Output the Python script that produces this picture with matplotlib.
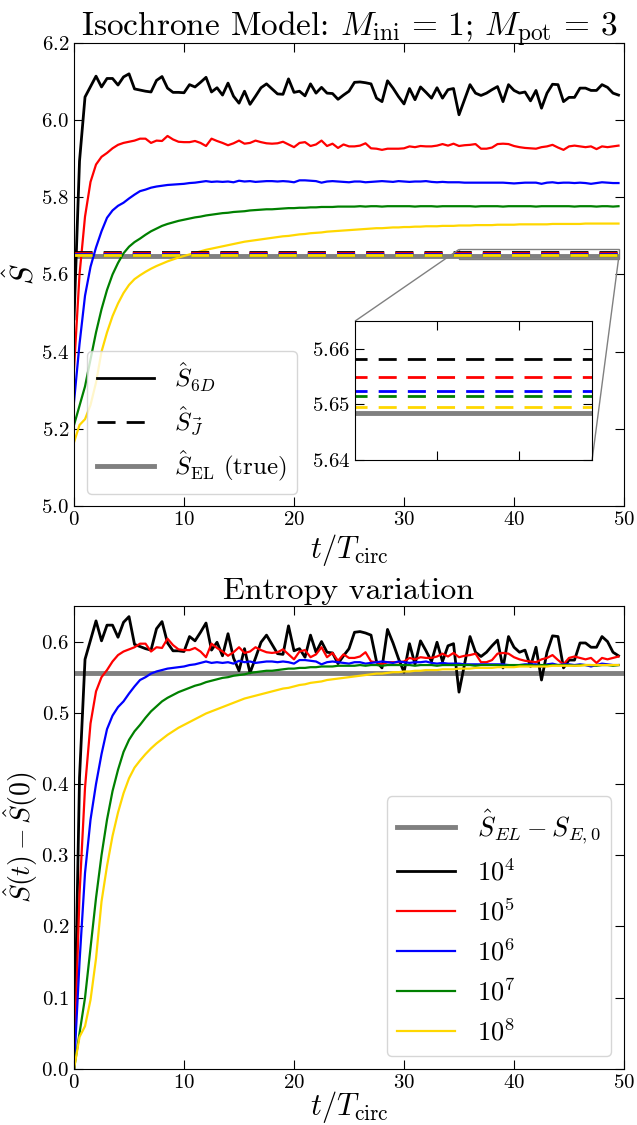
import numpy as np
import matplotlib
matplotlib.use('Agg')
import matplotlib.pyplot as plt
from mpl_toolkits.axes_grid1.inset_locator import mark_inset

plt.rcParams['font.family'] = 'serif'
plt.rcParams['font.serif'] = ['cmr10']
plt.rcParams['mathtext.fontset'] = 'cm'
plt.rcParams['axes.formatter.use_mathtext'] = True

# time in units of T_circ
t = np.arange(0, 50, 0.5)

# entropy estimate S_6D for N = 1e4 ... 1e8 particles
s6d_1e4 = [5.485, 5.894, 6.060, 6.087, 6.114, 6.086, 6.108, 6.108, 6.091, 6.112,
           6.120, 6.081, 6.078, 6.075, 6.073, 6.103, 6.113, 6.083, 6.072, 6.072,
           6.071, 6.092, 6.086, 6.098, 6.111, 6.073, 6.084, 6.065, 6.096, 6.062,
           6.044, 6.075, 6.041, 6.062, 6.084, 6.094, 6.081, 6.068, 6.067, 6.107,
           6.072, 6.075, 6.063, 6.094, 6.070, 6.085, 6.070, 6.069, 6.054, 6.065,
           6.075, 6.098, 6.099, 6.097, 6.094, 6.057, 6.048, 6.102, 6.083, 6.061,
           6.042, 6.082, 6.053, 6.086, 6.072, 6.057, 6.084, 6.057, 6.079, 6.082,
           6.014, 6.053, 6.092, 6.070, 6.064, 6.070, 6.079, 6.087, 6.048, 6.092,
           6.077, 6.070, 6.073, 6.050, 6.077, 6.031, 6.070, 6.093, 6.092, 6.048,
           6.059, 6.059, 6.083, 6.083, 6.077, 6.077, 6.092, 6.085, 6.070, 6.065]
s6d_1e5 = [5.355, 5.600, 5.750, 5.840, 5.885, 5.905, 5.915, 5.927, 5.936, 5.941,
           5.944, 5.947, 5.952, 5.952, 5.941, 5.947, 5.946, 5.959, 5.950, 5.944,
           5.943, 5.943, 5.946, 5.941, 5.933, 5.952, 5.946, 5.941, 5.935, 5.940,
           5.947, 5.939, 5.941, 5.947, 5.943, 5.940, 5.939, 5.940, 5.944, 5.937,
           5.930, 5.941, 5.943, 5.933, 5.937, 5.947, 5.933, 5.939, 5.928, 5.937,
           5.932, 5.932, 5.934, 5.940, 5.927, 5.926, 5.923, 5.926, 5.926, 5.926,
           5.927, 5.932, 5.930, 5.933, 5.932, 5.932, 5.934, 5.938, 5.934, 5.939,
           5.933, 5.935, 5.936, 5.938, 5.926, 5.926, 5.929, 5.938, 5.939, 5.938,
           5.933, 5.930, 5.928, 5.927, 5.926, 5.930, 5.932, 5.936, 5.929, 5.923,
           5.932, 5.934, 5.932, 5.930, 5.932, 5.925, 5.932, 5.930, 5.932, 5.934]
s6d_1e6 = [5.270, 5.420, 5.545, 5.620, 5.670, 5.712, 5.747, 5.766, 5.778, 5.786,
           5.797, 5.807, 5.816, 5.820, 5.825, 5.828, 5.830, 5.832, 5.833, 5.834,
           5.835, 5.837, 5.838, 5.840, 5.842, 5.840, 5.841, 5.840, 5.841, 5.839,
           5.843, 5.841, 5.842, 5.840, 5.841, 5.842, 5.842, 5.841, 5.842, 5.841,
           5.839, 5.844, 5.844, 5.843, 5.842, 5.838, 5.841, 5.842, 5.841, 5.840,
           5.839, 5.841, 5.841, 5.839, 5.840, 5.841, 5.842, 5.841, 5.840, 5.842,
           5.841, 5.840, 5.841, 5.841, 5.842, 5.840, 5.839, 5.840, 5.839, 5.839,
           5.839, 5.838, 5.838, 5.838, 5.838, 5.838, 5.838, 5.838, 5.838, 5.837,
           5.836, 5.837, 5.838, 5.838, 5.838, 5.835, 5.838, 5.839, 5.837, 5.838,
           5.838, 5.837, 5.838, 5.837, 5.835, 5.837, 5.839, 5.838, 5.837, 5.837]
s6d_1e7 = [5.210, 5.260, 5.310, 5.380, 5.450, 5.510, 5.560, 5.600, 5.630, 5.655,
           5.672, 5.684, 5.693, 5.703, 5.712, 5.719, 5.726, 5.731, 5.735, 5.739,
           5.742, 5.745, 5.748, 5.750, 5.753, 5.755, 5.757, 5.759, 5.760, 5.762,
           5.763, 5.764, 5.766, 5.767, 5.768, 5.769, 5.769, 5.770, 5.771, 5.772,
           5.772, 5.773, 5.773, 5.774, 5.774, 5.775, 5.775, 5.775, 5.776, 5.776,
           5.776, 5.776, 5.777, 5.776, 5.777, 5.777, 5.776, 5.777, 5.777, 5.777,
           5.777, 5.777, 5.776, 5.777, 5.777, 5.777, 5.776, 5.777, 5.777, 5.777,
           5.777, 5.777, 5.777, 5.776, 5.777, 5.777, 5.777, 5.777, 5.776, 5.777,
           5.777, 5.777, 5.777, 5.777, 5.776, 5.777, 5.777, 5.777, 5.777, 5.777,
           5.777, 5.776, 5.777, 5.777, 5.777, 5.776, 5.777, 5.777, 5.776, 5.777]
s6d_1e8 = [5.165, 5.210, 5.225, 5.262, 5.320, 5.400, 5.450, 5.492, 5.525, 5.552,
           5.573, 5.588, 5.598, 5.607, 5.615, 5.622, 5.628, 5.634, 5.639, 5.644,
           5.648, 5.652, 5.656, 5.660, 5.664, 5.667, 5.670, 5.673, 5.676, 5.679,
           5.682, 5.685, 5.687, 5.689, 5.691, 5.693, 5.695, 5.697, 5.699, 5.700,
           5.702, 5.704, 5.705, 5.707, 5.708, 5.709, 5.711, 5.712, 5.713, 5.714,
           5.715, 5.716, 5.717, 5.718, 5.719, 5.720, 5.720, 5.721, 5.722, 5.722,
           5.723, 5.723, 5.724, 5.724, 5.725, 5.725, 5.725, 5.726, 5.726, 5.726,
           5.727, 5.727, 5.727, 5.728, 5.728, 5.728, 5.728, 5.729, 5.729, 5.729,
           5.729, 5.730, 5.730, 5.730, 5.730, 5.730, 5.730, 5.731, 5.731, 5.731,
           5.731, 5.731, 5.731, 5.732, 5.732, 5.732, 5.732, 5.732, 5.732, 5.732]

# action based estimates S_J (constant)
sj_vals = [5.6582, 5.6550, 5.6525, 5.6516, 5.6495]
s_el_true = 5.6485
s_el_diff = 0.5555

colors = ['black', 'red', 'blue', 'green', 'gold']
labels = [r'$10^4$', r'$10^5$', r'$10^6$', r'$10^7$', r'$10^8$']
series = [s6d_1e4, s6d_1e5, s6d_1e6, s6d_1e7, s6d_1e8]

fig = plt.figure(figsize=(6.37, 11.25), dpi=100)
ax1 = fig.add_axes([0.1162, 0.5502, 0.8634, 0.4116])
ax2 = fig.add_axes([0.1162, 0.0498, 0.8634, 0.4116])

# top panel
ax1.hlines(s_el_true, t[0], t[-1], color='gray', lw=3.5, zorder=1)
for s, c in zip(series, colors):
    ax1.plot(t, s, color=c, lw=2 if c == 'black' else 1.6)
for v, c in zip(sj_vals, colors):
    ax1.plot([t[0], t[-1]], [v, v], color=c, lw=2, ls=(0, (6.5, 4)))

ax1.set_xlim(0, 50)
ax1.set_ylim(5.0, 6.2)
ax1.set_yticks(np.arange(5.0, 6.21, 0.2))
ax1.set_xticks(np.arange(0, 51, 10))
ax1.tick_params(direction='in', top=True, right=True, length=6.5, labelsize=15)
ax1.set_title(r'Isochrone Model: $M_{\rm ini}\/=\/1$; $M_{\rm pot}\/=\/3$', fontsize=24, pad=5)
ax1.set_xlabel(r'$t/T_{\rm circ}$', fontsize=22, labelpad=2)
ax1.set_ylabel(r'$\hat{S}$', fontsize=22, labelpad=1)

h6d, = ax1.plot([], [], color='black', lw=2)
hj, = ax1.plot([], [], color='black', lw=2, ls=(0, (6.5, 4)))
hel, = ax1.plot([], [], color='gray', lw=3.5)
ax1.legend([h6d, hj, hel],
           [r'$\hat{S}_{6D}$', r'$\hat{S}_{\vec{J}}$', r'$\hat{S}_{\rm EL}$ (true)'],
           loc='lower left', fontsize=18, handlelength=2.3, labelspacing=0.45)

# inset zoom on the S_J lines
axins = ax1.inset_axes([0.511, 0.0994, 0.431, 0.300])
axins.hlines(s_el_true, t[0], t[-1], color='gray', lw=3.5, zorder=1)
for v, c in zip(sj_vals, colors):
    axins.plot([t[0], t[-1]], [v, v], color=c, lw=2, ls=(0, (6.5, 4)))
axins.set_xlim(35, 49.5)
axins.set_ylim(5.64, 5.665)
axins.set_yticks([5.64, 5.65, 5.66])
axins.set_xticks([40, 45])
axins.set_xticklabels([])
axins.tick_params(direction='in', top=True, right=True, length=6.5, labelsize=15)
mark_inset(ax1, axins, loc1=2, loc2=4, fc='none', ec='0.5')

# bottom panel
ax2.axhline(s_el_diff, color='gray', lw=3.5, label=r'$\hat{S}_{EL} - S_{E,0}$')
for s, c, lab in zip(series, colors, labels):
    s = np.array(s)
    ax2.plot(t, s - s[0], color=c, lw=2 if c == 'black' else 1.6, label=lab)

ax2.set_xlim(0, 50)
ax2.set_ylim(0, 0.65)
ax2.set_yticks(np.arange(0, 0.61, 0.1))
ax2.set_xticks(np.arange(0, 51, 10))
ax2.tick_params(direction='in', top=True, right=True, length=6.5, labelsize=15)
ax2.set_title('Entropy variation', fontsize=23, pad=5)
ax2.set_xlabel(r'$t/T_{\rm circ}$', fontsize=22, labelpad=-2)
ax2.set_ylabel(r'$\hat{S}(t) - \hat{S}(0)$', fontsize=20, labelpad=1)
ax2.legend(loc='lower right', fontsize=19, handlelength=2.2)

fig.savefig('out.png', dpi=100)
